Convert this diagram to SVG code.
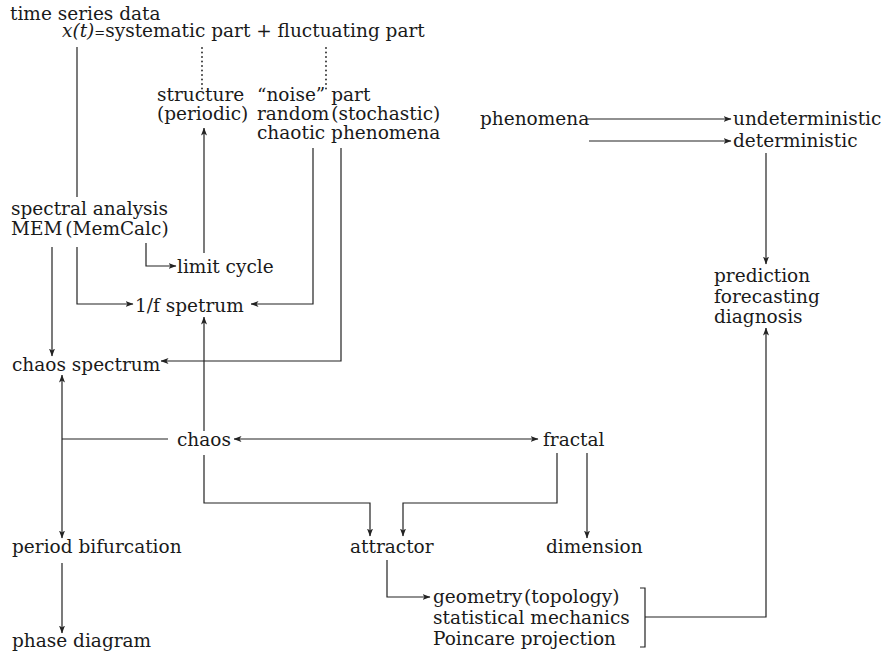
<svg xmlns="http://www.w3.org/2000/svg" width="883" height="653" viewBox="0 0 883 653">
<style>
text{font-family:"DejaVu Serif","Liberation Serif",serif;font-size:18.5px;fill:#1a1a1a}
.c path{fill:none;stroke:#222;stroke-width:1.2}
.c path.dot{stroke-width:1.8;stroke-dasharray:0.1 4.4;stroke-linecap:round}
</style>
<defs>
<marker id="ah" viewBox="0 0 8 8" refX="7.5" refY="4" markerWidth="8" markerHeight="8" markerUnits="userSpaceOnUse" orient="auto-start-reverse">
<path d="M0,1 L8,4 L0,7 L2,4 Z" fill="#222"/>
</marker>
</defs>
<rect width="883" height="653" fill="#fff"/>
<g id="connectors" class="c">
<path d="M77,47 V197"/>
<path class="dot" d="M202,48 V89"/>
<path class="dot" d="M326,48 V89"/>
<path d="M204,253 V128" marker-end="url(#ah)"/>
<path d="M146,243 V266 H176" marker-end="url(#ah)"/>
<path d="M77,247 V304 H133" marker-end="url(#ah)"/>
<path d="M313,148 V304 H251" marker-end="url(#ah)"/>
<path d="M341,148 V361 H161" marker-end="url(#ah)"/>
<path d="M52,247 V356" marker-end="url(#ah)"/>
<path d="M204,431 V317" marker-end="url(#ah)"/>
<path d="M62,375 V538" marker-start="url(#ah)" marker-end="url(#ah)"/>
<path d="M62,439 H168"/>
<path d="M234,439 H538" marker-start="url(#ah)" marker-end="url(#ah)"/>
<path d="M204,455 V503 H370 V536" marker-end="url(#ah)"/>
<path d="M557,453 V503 H403 V536" marker-end="url(#ah)"/>
<path d="M587,453 V538" marker-end="url(#ah)"/>
<path d="M62,563 V633" marker-end="url(#ah)"/>
<path d="M387,560 V597 H430" marker-end="url(#ah)"/>
<path d="M640,588 H645 V647 H640"/>
<path d="M645,617 H766 V328" marker-end="url(#ah)"/>
<path d="M587,119 H731" marker-end="url(#ah)"/>
<path d="M589,141 H731" marker-end="url(#ah)"/>
<path d="M766,153 V264" marker-end="url(#ah)"/>
</g>
<g id="n-timeseries"><text x="10" y="20">time series data</text>
<text x="62" y="37" font-size="18"><tspan font-style="italic">x(t)</tspan><tspan font-size="13">=</tspan>systematic part + fluctuating part</text></g>
<g id="n-structure"><text x="157" y="101">structure</text><text x="157" y="120">(periodic)</text></g>
<g id="n-noise"><text x="257" y="101">“noise” part</text><text x="257" y="120" word-spacing="-4">random (stochastic)</text><text x="257" y="139">chaotic phenomena</text></g>
<g id="n-phenomena"><text x="480" y="125">phenomena</text></g>
<g id="n-undet"><text x="733" y="125">undeterministic</text></g>
<g id="n-det"><text x="733" y="147">deterministic</text></g>
<g id="n-spectral"><text x="11" y="215">spectral analysis</text><text x="11" y="235" word-spacing="-3">MEM (MemCalc)</text></g>
<g id="n-limit"><text x="177" y="273">limit cycle</text></g>
<g id="n-onef"><text x="135" y="312">1/f spetrum</text></g>
<g id="n-prediction"><text x="714" y="282">prediction</text><text x="714" y="303">forecasting</text><text x="714" y="323">diagnosis</text></g>
<g id="n-chaosspec"><text x="12" y="371">chaos spectrum</text></g>
<g id="n-chaos"><text x="177" y="446">chaos</text></g>
<g id="n-fractal"><text x="543" y="446">fractal</text></g>
<g id="n-period"><text x="12" y="553">period bifurcation</text></g>
<g id="n-attractor"><text x="350" y="553">attractor</text></g>
<g id="n-dimension"><text x="546" y="553">dimension</text></g>
<g id="n-phase"><text x="12" y="647">phase diagram</text></g>
<g id="n-geometry"><text x="433" y="603" word-spacing="-4">geometry (topology)</text><text x="433" y="624">statistical mechanics</text><text x="433" y="645">Poincare projection</text></g>
</svg>
